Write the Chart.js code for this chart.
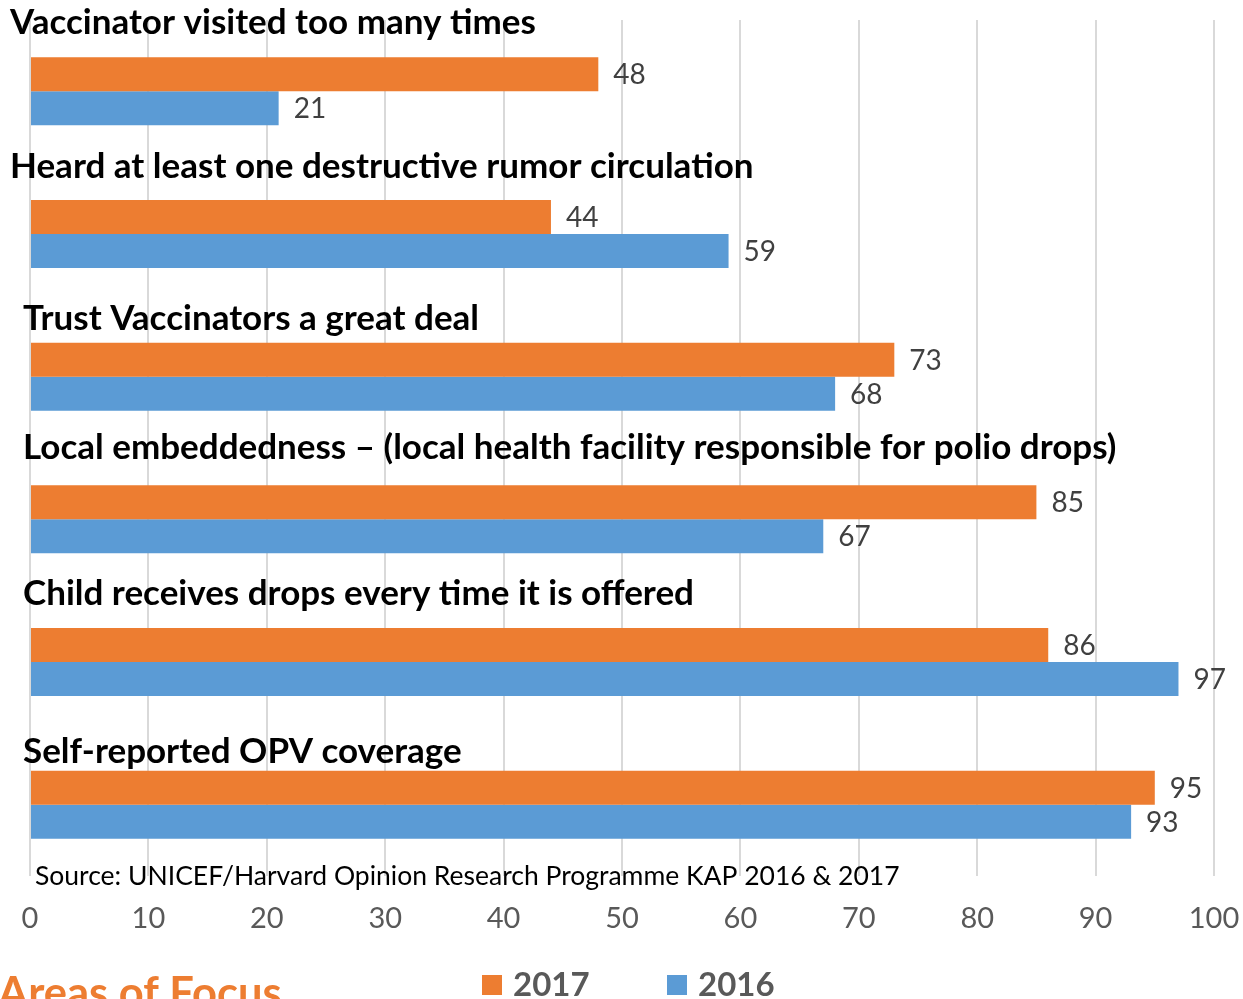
<!DOCTYPE html>
<html>
<head>
<meta charset="utf-8">
<title>KAP 2016 & 2017</title>
<script src="https://cdn.jsdelivr.net/npm/chart.js@4.4.1/dist/chart.umd.min.js"></script>
<style>
    html, body { margin: 0; padding: 0; background: #fff; overflow: hidden; }
    canvas { display: block; }
</style>
</head>
<body>
<canvas id="grafico" width="1243" height="999"></canvas>
<script>
const categorias = [
    "Vaccinator visited too many times",
    "Heard at least one destructive rumor circulation",
    "Trust Vaccinators a great deal",
    "Local embeddedness \u2013 (local health facility responsible for polio drops)",
    "Child receives drops every time it is offered",
    "Self-reported OPV coverage"
];
const anos = ["2017", "2016"];
const valores2017 = [48, 44, 73, 85, 86, 95];
const valores2016 = [21, 59, 68, 67, 97, 93];
const ticksX = [0, 10, 20, 30, 40, 50, 60, 70, 80, 90, 100];

const fonte = "Lato, 'Open Sans', sans-serif";
const laranja = '#ED7D31';
const azul = '#5B9BD5';

// small nudges for the category titles (they are not evenly placed in the original)
const tituloDx = [10, 10, 23, 23, 23, 23];
const tituloDy = [-69, -67, -58, -72, -68, -53];

// draws value labels, category titles, source note and legend
const textos = {
    id: 'textos',
    afterDatasetsDraw(chart) {
        const c = chart.ctx;
        c.save();
        c.font = '28px ' + fonte;
        c.fillStyle = '#404040';
        c.textBaseline = 'middle';
        c.textAlign = 'left';
        chart.data.datasets.forEach((ds, i) => {
            chart.getDatasetMeta(i).data.forEach((bar, j) => {
                c.fillText(String(ds.data[j]), bar.x + 15, bar.y + 1);
            });
        });
        c.restore();
    },
    afterDraw(chart) {
        const c = chart.ctx;
        const y = chart.scales.y;
        const area = chart.chartArea;
        c.save();
        c.textBaseline = 'middle';
        c.textAlign = 'left';

        c.font = 'bold 35px ' + fonte;
        c.fillStyle = '#000';
        categorias.forEach((cat, i) => {
            c.fillText(cat, tituloDx[i], y.getPixelForValue(i) + tituloDy[i]);
        });

        c.font = '26.5px ' + fonte;
        c.fillStyle = '#000';
        c.fillText('Source: UNICEF/Harvard Opinion Research Programme KAP 2016 & 2017', area.left + 5, area.bottom);

        // legend
        const cores = [laranja, azul];
        const legX = [482, 667];
        c.font = 'bold 33px ' + fonte;
        anos.forEach((a, i) => {
            c.fillStyle = cores[i];
            c.fillRect(legX[i], 975, 20, 20);
            c.fillStyle = '#595959';
            c.fillText(a, legX[i] + 31, 985);
        });

        // slide heading that sits cut off below the chart
        c.font = 'bold 43.5px ' + fonte;
        c.fillStyle = laranja;
        c.fillText('Areas of Focus', -2, 994);
        c.restore();
    }
};

const ctx = document.getElementById('grafico').getContext('2d');

let grafico = new Chart(ctx, {
    type: 'bar',
    data: {
        labels: categorias,
        datasets: [
            { label: anos[0], data: valores2017, backgroundColor: laranja },
            { label: anos[1], data: valores2016, backgroundColor: azul }
        ]
    },
    options: {
        indexAxis: 'y',
        responsive: false,
        animation: false,
        layout: { padding: { left: 30, right: 29, top: 20, bottom: 0 } },
        datasets: {
            bar: { categoryPercentage: 0.477, barPercentage: 1 }
        },
        plugins: {
            legend: { display: false },
            tooltip: { enabled: false }
        },
        scales: {
            x: {
                min: 0,
                max: 100,
                afterBuildTicks: (s) => { s.ticks = ticksX.map(v => ({ value: v })); },
                afterFit: (s) => {
                    s.height = 123;
                    s.paddingLeft = 0;
                    s.paddingRight = 0;
                },
                ticks: {
                    color: '#595959',
                    padding: 25,
                    font: { family: fonte, size: 29 }
                },
                grid: { color: '#d9d9d9', lineWidth: 2, drawTicks: false },
                border: { display: false }
            },
            y: {
                display: false
            }
        }
    },
    plugins: [textos]
});
</script>
</body>
</html>
